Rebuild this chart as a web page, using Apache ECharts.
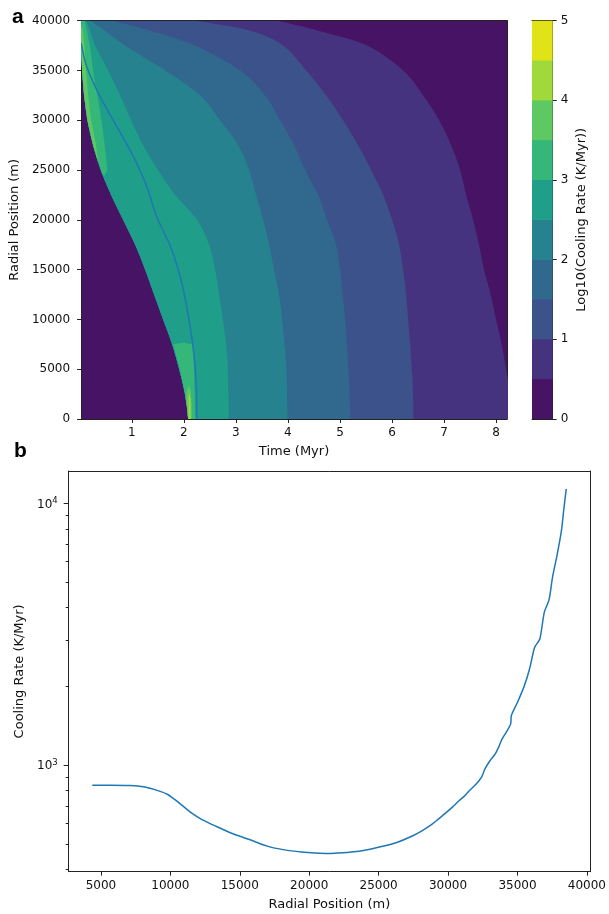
<!DOCTYPE html>
<html><head><meta charset="utf-8">
<script src="https://cdn.jsdelivr.net/npm/echarts@6/dist/echarts.min.js"></script>
<style>html,body{margin:0;padding:0;background:#fff}#c{width:609px;height:914px}</style>
</head><body><div id="c"></div>
<script>
// ===== Panel a: contour boundaries (time in Myr at each radial position in m) =====
const radii = [0, 2500, 5000, 7500, 10000, 12500, 15000, 17500, 20000, 22500, 25000, 27500, 30000, 32500, 35000, 37500, 39000, 40000];
const frontTime = [2.082, 2.024, 1.909, 1.774, 1.601, 1.428, 1.256, 1.064, 0.833, 0.602, 0.404, 0.256, 0.147, 0.083, 0.045, 0.026, 0.026, 0.026];
const contour25Time = [2.864, 2.856, 2.845, 2.812, 2.749, 2.678, 2.601, 2.485, 2.255, 1.832, 1.505, 1.217, 0.987, 0.775, 0.545, 0.295, 0.199, 0.122];
const contour20Time = [3.990, 3.984, 3.971, 3.936, 3.888, 3.830, 3.734, 3.638, 3.523, 3.388, 3.254, 3.043, 2.697, 2.313, 1.642, 0.871, 0.487, 0.199];
const contour15Time = [5.195, 5.185, 5.162, 5.137, 5.099, 5.051, 5.003, 4.926, 4.753, 4.580, 4.330, 4.119, 3.850, 3.561, 3.081, 2.216, 1.352, 0.621];
const contour10Time = [6.411, 6.405, 6.380, 6.348, 6.310, 6.271, 6.213, 6.136, 6.002, 5.829, 5.598, 5.348, 5.060, 4.734, 4.350, 3.907, 3.273, 2.216];
const contour05Time = [8.33, 8.27, 8.193, 8.106, 8.0, 7.895, 7.77, 7.67, 7.559, 7.424, 7.309, 7.136, 6.905, 6.597, 6.213, 5.522, 4.580, 3.811];
// higher-value patches [time, radius]
const patch30Top = [[0.026,40000],[0.026,37500],[0.045,35000],[0.083,32500],[0.147,30000],[0.256,27500],[0.404,25000],[0.420,24706],[0.468,24405],[0.531,25000],[0.481,27500],[0.416,30000],[0.339,32500],[0.256,35000],[0.193,37500],[0.097,40000]];
const patch35Top = [[0.026,39268],[0.026,37500],[0.045,35000],[0.083,32500],[0.147,30000],[0.256,27500],[0.352,25811],[0.314,27500],[0.218,30000],[0.160,32500],[0.122,35000],[0.093,37500],[0.055,39268]];
const patch30Bottom = [[2.082,0],[2.068,904],[2.018,2511],[1.922,5022],[1.794,7532],[1.890,7582],[2.005,7683],[2.101,7532],[2.178,7633],[2.197,4921],[2.211,1908],[2.216,0]];
const patch35Bottom = [[2.082,0],[2.068,904],[2.043,1908],[2.053,2712],[2.091,3314],[2.130,2912],[2.149,1406],[2.149,0]];
const patch40Bottom = [[2.091,0],[2.091,1908],[2.107,2611],[2.126,1908],[2.126,0]];
// overlay line in panel a [time, radius]
const overlayTime = [0.026, 0.135, 0.391, 0.712, 1.031, 1.288, 1.480, 1.769, 1.961, 2.088, 2.184, 2.236, 2.249];
const overlayRadius = [37732, 35382, 32369, 29356, 26343, 23330, 20317, 16973, 13628, 10274, 6930, 3585, 70];
const timeTicks = [1, 2, 3, 4, 5, 6, 7, 8];
const colorbarLevels = [0, 0.5, 1, 1.5, 2, 2.5, 3, 3.5, 4, 4.5, 5];
const colorbarTicks = [0, 1, 2, 3, 4, 5];

// ===== Panel b: cooling rate vs radial position =====
const radialPos = [4380, 5615, 7097, 8085, 9320, 9814, 10308, 10801, 11542, 12283, 13271, 14506, 15740, 16975, 18209, 19445, 20432, 21420, 22408, 23396, 24383, 25371, 26360, 27348, 28088, 28829, 29323, 29817, 30311, 30805, 31176, 31546, 32040, 32411, 32657, 33029, 33399, 33645, 33893, 34263, 34509, 34559, 35003, 35497, 35868, 36238, 36608, 36930, 37275, 37522, 37844, 38165, 38337, 38510];
const coolingRate = [839, 839, 837, 827, 793, 773, 740, 706, 656, 620, 585, 547, 519, 491, 475, 466, 462, 460, 463, 468, 478, 491, 508, 534, 560, 594, 624, 656, 692, 733, 762, 801, 849, 900, 968, 1042, 1105, 1172, 1260, 1356, 1438, 1547, 1740, 2014, 2332, 2821, 3035, 3837, 4289, 5220, 6315, 7865, 9515, 11341];
const radialTicks = [5000, 10000, 15000, 20000, 25000, 30000, 35000, 40000];
const rateMajorTicks = [1000, 10000];
const rateMinorTicks = [400, 500, 600, 700, 800, 900, 2000, 3000, 4000, 5000, 6000, 7000, 8000, 9000];

// ===== styles =====
const bandColors = ['#471365', '#46337f', '#3b528b', '#31688e', '#26828e', '#1f9e89', '#35b779', '#5ec962', '#9fda3a', '#dfe318'];
const FONT = 'DejaVu Sans';
const TXT = '#111';
const LINE = '#222';

// Catmull-Rom smoothing in pixel space (rendering only)
function smoothPixels(pts, seg) {
  const n = pts.length, out = [];
  if (n < 3) return pts.slice();
  for (let i = 0; i < n - 1; i++) {
    const p0 = pts[Math.max(i - 1, 0)], p1 = pts[i], p2 = pts[i + 1], p3 = pts[Math.min(i + 2, n - 1)];
    for (let s = 0; s < seg; s++) {
      const t = s / seg, t2 = t * t, t3 = t2 * t;
      const f = k => 0.5 * ((2 * p1[k]) + (-p0[k] + p2[k]) * t + (2 * p0[k] - 5 * p1[k] + 4 * p2[k] - p3[k]) * t2 + (-p0[k] + 3 * p1[k] - 3 * p2[k] + p3[k]) * t3);
      out.push([f(0), f(1)]);
    }
  }
  out.push(pts[n - 1]);
  return out;
}
function bandSeries(boundary, color, z) {
  const data = radii.map((r, i) => [frontTime[i], r, boundary[i]]);
  return {
    type: 'custom', coordinateSystem: 'cartesian2d', xAxisIndex: 0, yAxisIndex: 0,
    clip: true, silent: true, z: z, data: data, encode: { x: 0, y: 1 },
    renderItem: function (params, api) {
      if (params.dataIndexInside !== 0) return null;
      const n = params.dataInsideLength;
      const left = [], right = [];
      for (let i = 0; i < n; i++) {
        left.push(api.coord([api.value(0, i), api.value(1, i)]));
        right.push(api.coord([api.value(2, i), api.value(1, i)]));
      }
      const pts = smoothPixels(left, 8).concat(smoothPixels(right, 8).reverse());
      return { type: 'polygon', shape: { points: pts }, style: { fill: color } };
    }
  };
}
function patchSeries(pts, color, z) {
  return {
    type: 'custom', coordinateSystem: 'cartesian2d', xAxisIndex: 0, yAxisIndex: 0,
    clip: true, silent: true, z: z, data: pts, encode: { x: 0, y: 1 },
    renderItem: function (params, api) {
      if (params.dataIndexInside !== 0) return null;
      const n = params.dataInsideLength;
      const points = [];
      for (let i = 0; i < n; i++) points.push(api.coord([api.value(0, i), api.value(1, i)]));
      return { type: 'polygon', shape: { points: points }, style: { fill: color } };
    }
  };
}
const plain = v => String(v);
const tickLabel = (extra) => Object.assign({ fontFamily: FONT, fontSize: 12, color: TXT, formatter: plain }, extra);
const nameStyle = { fontFamily: FONT, fontSize: 13, color: TXT };
const frameAxis = (grid, pos, extra) => Object.assign({
  gridIndex: grid, position: pos, axisLine: { show: true, onZero: false, lineStyle: { color: LINE, width: 1 } },
  axisTick: { show: false }, axisLabel: { show: false }, splitLine: { show: false }
}, extra);

const series = [];
series.push(bandSeries(contour05Time, bandColors[1], 1));
series.push(bandSeries(contour10Time, bandColors[2], 2));
series.push(bandSeries(contour15Time, bandColors[3], 3));
series.push(bandSeries(contour20Time, bandColors[4], 4));
series.push(bandSeries(contour25Time, bandColors[5], 5));
series.push(patchSeries(patch30Top, bandColors[6], 6));
series.push(patchSeries(patch30Bottom, bandColors[6], 6));
series.push(patchSeries(patch35Top, bandColors[7], 7));
series.push(patchSeries(patch35Bottom, bandColors[7], 7));
series.push(patchSeries(patch40Bottom, bandColors[8], 8));
// overlay line (smoothed polyline through the library's coordinates)
series.push({
  type: 'custom', coordinateSystem: 'cartesian2d', xAxisIndex: 0, yAxisIndex: 0, z: 10, clip: true, silent: true,
  data: overlayTime.map((t, i) => [t, overlayRadius[i]]), encode: { x: 0, y: 1 },
  renderItem: function (params, api) {
    if (params.dataIndexInside !== 0) return null;
    const n = params.dataInsideLength, pts = [];
    for (let i = 0; i < n; i++) pts.push(api.coord([api.value(0, i), api.value(1, i)]));
    return { type: 'polyline', shape: { points: smoothPixels(pts, 10) }, style: { stroke: '#1f77b4', lineWidth: 1.5, fill: null } };
  }
});
// colorbar (one rect per level band)
series.push({
  type: 'custom', coordinateSystem: 'cartesian2d', xAxisIndex: 2, yAxisIndex: 2, silent: true, z: 2,
  data: colorbarLevels.slice(0, -1).map((lo, i) => ['cb', lo, colorbarLevels[i + 1]]),
  encode: { x: 0, y: [1, 2] },
  renderItem: function (params, api) {
    const lo = api.coord([api.value(0), api.value(1)]);
    const hi = api.coord([api.value(0), api.value(2)]);
    const w = api.size([1, 0])[0];
    const top = params.dataIndexInside === params.dataInsideLength - 1 ? hi[1] : hi[1] - 0.6;
    return { type: 'rect', shape: { x: lo[0] - w / 2, y: top, width: w, height: lo[1] - top },
      style: { fill: bandColors[params.dataIndex] } };
  }
});
// panel b line
series.push({
  type: 'line', xAxisIndex: 4, yAxisIndex: 4, silent: true, showSymbol: false, symbol: 'none', smooth: 0.25,
  data: radialPos.map((r, i) => [r, coolingRate[i]]),
  lineStyle: { color: '#1f77b4', width: 1.5 }
});

const option = {
  animation: false,
  backgroundColor: '#fff',
  graphic: [
    { type: 'text', left: 12, top: 7, style: { text: 'a', font: 'bold 21px "Liberation Sans"', fill: '#000' } },
    { type: 'text', left: 14, top: 441, style: { text: 'b', font: 'bold 21px "Liberation Sans"', fill: '#000' } }
  ],
  grid: [
    { left: 81, top: 20.7, width: 426, height: 398.3, show: true, backgroundColor: bandColors[0], borderWidth: 0 },
    { left: 532, top: 20.7, width: 20.7, height: 398.3 },
    { left: 68.7, top: 471, width: 523, height: 400.7 }
  ],
  xAxis: [
    { gridIndex: 0, type: 'value', min: 0.025, max: 8.21, position: 'bottom',
      axisLine: { show: true, onZero: false, lineStyle: { color: LINE, width: 1 } },
      axisTick: { show: true, customValues: timeTicks, length: 4, lineStyle: { color: LINE } },
      axisLabel: tickLabel({ customValues: timeTicks, margin: 7.5 }),
      splitLine: { show: false },
      name: 'Time (Myr)', nameLocation: 'middle', nameGap: 26, nameTextStyle: nameStyle },
    frameAxis(0, 'top', { type: 'value', min: 0.025, max: 8.21 }),
    { gridIndex: 1, type: 'category', data: ['cb'], position: 'bottom',
      axisLine: { show: true, onZero: false, lineStyle: { color: LINE, width: 1 } },
      axisTick: { show: false }, axisLabel: { show: false } },
    frameAxis(1, 'top', { type: 'category', data: ['cb'] }),
    { gridIndex: 2, type: 'value', min: 2680, max: 40220, position: 'bottom',
      axisLine: { show: true, onZero: false, lineStyle: { color: LINE, width: 1 } },
      axisTick: { show: true, customValues: radialTicks, length: 4, lineStyle: { color: LINE } },
      axisLabel: tickLabel({ customValues: radialTicks, margin: 8 }),
      splitLine: { show: false },
      name: 'Radial Position (m)', nameLocation: 'middle', nameGap: 26, nameTextStyle: nameStyle },
    frameAxis(2, 'top', { type: 'value', min: 2680, max: 40220 })
  ],
  yAxis: [
    { gridIndex: 0, type: 'value', min: 0, max: 40000, interval: 5000, position: 'left',
      axisLine: { show: true, onZero: false, lineStyle: { color: LINE, width: 1 } },
      axisTick: { show: true, length: 4, lineStyle: { color: LINE } },
      axisLabel: tickLabel({ margin: 11 }),
      splitLine: { show: false },
      name: 'Radial Position (m)', nameLocation: 'middle', nameGap: 57, nameRotate: 90, nameTextStyle: nameStyle },
    frameAxis(0, 'right', { type: 'value', min: 0, max: 40000 }),
    { gridIndex: 1, type: 'value', min: 0, max: 5, position: 'right',
      axisLine: { show: true, onZero: false, lineStyle: { color: LINE, width: 1 } },
      axisTick: { show: true, customValues: colorbarTicks, length: 4, lineStyle: { color: LINE } },
      axisLabel: tickLabel({ customValues: colorbarTicks, margin: 8 }),
      splitLine: { show: false },
      name: 'Log10(Cooling Rate (K/Myr))', nameLocation: 'middle', nameGap: 22, nameRotate: 90, nameTextStyle: nameStyle },
    frameAxis(1, 'left', { type: 'value', min: 0, max: 5 }),
    { gridIndex: 2, type: 'log', logBase: 10, min: 392, max: 13300, position: 'left',
      axisLine: { show: true, onZero: false, lineStyle: { color: LINE, width: 1 } },
      axisTick: { show: true, customValues: rateMajorTicks, length: 5, lineStyle: { color: LINE } },
      axisLabel: { customValues: rateMajorTicks, margin: 11, color: TXT, fontFamily: FONT,
        formatter: v => '{b|10}{s|' + Math.round(Math.log10(v)) + '}',
        rich: { b: { fontFamily: FONT, fontSize: 12, color: TXT, lineHeight: 14, verticalAlign: 'bottom' },
                s: { fontFamily: FONT, fontSize: 8.5, color: TXT, lineHeight: 14, verticalAlign: 'top', padding: [0, 0, 4, 0] } } },
      splitLine: { show: false },
      name: 'Cooling Rate (K/Myr)', nameLocation: 'middle', nameGap: 42, nameRotate: 90, nameTextStyle: nameStyle },
    { gridIndex: 2, type: 'log', logBase: 10, min: 392, max: 13300, position: 'left',
      axisLine: { show: false },
      axisTick: { show: true, customValues: rateMinorTicks, length: 3, lineStyle: { color: LINE } },
      axisLabel: { show: false }, splitLine: { show: false } },
    frameAxis(2, 'right', { type: 'value', min: 0, max: 1 })
  ],
  series: series
};
const chart = echarts.init(document.getElementById('c'), null, { renderer: 'canvas', width: 609, height: 914 });
chart.setOption(option);
</script>
</body></html>
